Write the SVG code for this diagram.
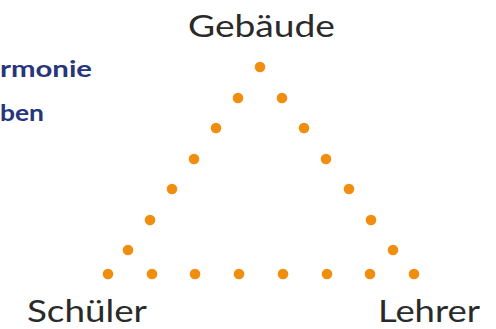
<svg xmlns="http://www.w3.org/2000/svg" width="496" height="329" viewBox="0 0 496 329">
  <style>
    .dot { fill: #F18E0F; }
    .label { font-family: Lato, "Liberation Sans", sans-serif; font-size: 30px; fill: #2a2a2a; }
    .side { font-family: Lato, "Liberation Sans", sans-serif; font-size: 23px; font-weight: bold; fill: #27357A; }
  </style>
  <rect width="496" height="329" fill="#ffffff"/>

  <g id="side-text">
    <text class="side" x="0" y="77" textLength="92" lengthAdjust="spacingAndGlyphs">rmonie</text>
    <text class="side" x="0" y="121" textLength="44" lengthAdjust="spacingAndGlyphs">ben</text>
  </g>

  <g id="connectors">
    <!-- left edge -->
    <circle class="dot" cx="260" cy="67" r="5.3"/>
    <circle class="dot" cx="238" cy="98" r="5.3"/>
    <circle class="dot" cx="216" cy="128" r="5.3"/>
    <circle class="dot" cx="194" cy="159" r="5.3"/>
    <circle class="dot" cx="172" cy="189" r="5.3"/>
    <circle class="dot" cx="150" cy="220" r="5.3"/>
    <circle class="dot" cx="128" cy="250" r="5.3"/>
    <!-- right edge -->
    <circle class="dot" cx="282" cy="98" r="5.3"/>
    <circle class="dot" cx="304" cy="128" r="5.3"/>
    <circle class="dot" cx="326" cy="159" r="5.3"/>
    <circle class="dot" cx="349" cy="189" r="5.3"/>
    <circle class="dot" cx="371" cy="220" r="5.3"/>
    <circle class="dot" cx="393" cy="250" r="5.3"/>
    <!-- base -->
    <circle class="dot" cx="108" cy="274" r="5.3"/>
    <circle class="dot" cx="152" cy="274" r="5.3"/>
    <circle class="dot" cx="195" cy="274" r="5.3"/>
    <circle class="dot" cx="239" cy="274" r="5.3"/>
    <circle class="dot" cx="283" cy="274" r="5.3"/>
    <circle class="dot" cx="327" cy="274" r="5.3"/>
    <circle class="dot" cx="370" cy="274" r="5.3"/>
    <circle class="dot" cx="414" cy="274" r="5.3"/>
  </g>

  <g id="node-gebaeude">
    <text class="label" x="188" y="37" textLength="147" lengthAdjust="spacingAndGlyphs">Gebäude</text>
  </g>
  <g id="node-schueler">
    <text class="label" x="27" y="322" textLength="120" lengthAdjust="spacingAndGlyphs">Schüler</text>
  </g>
  <g id="node-lehrer">
    <text class="label" x="378" y="322" textLength="102" lengthAdjust="spacingAndGlyphs">Lehrer</text>
  </g>
</svg>
